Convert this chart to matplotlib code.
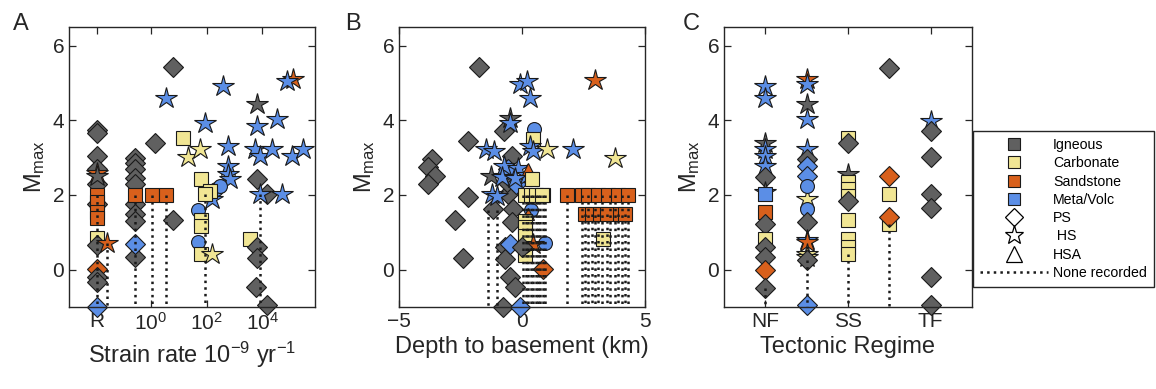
import matplotlib
matplotlib.use('Agg')
import matplotlib.pyplot as plt
from matplotlib.lines import Line2D

plt.rcParams['font.family'] = ['Liberation Sans', 'DejaVu Sans']
plt.rcParams['mathtext.default'] = 'regular'

# kind code: rock letter + marker
# I = Igneous, C = Carbonate, S = Sandstone, M = Meta/Volc
rock_colors = {'I': '#606060', 'C': '#f1e694', 'S': '#d8601c', 'M': '#5b8ee6'}
marker_sizes = {'D': 10, '*': 16, 's': 9.5, 'o': 10, '^': 9}

# ---- Panel A: strain rate (log10 units, R = no rate) ----
a_x = [-1.92, -1.92, -1.92, -1.92, -1.92, -1.92, -1.92, -1.92, -1.92, -1.92,
       -1.92, -1.92, -1.92, -1.92, -1.92, -1.92, -1.92, -1.92, -1.55,
       -0.55, -0.55, -0.55, -0.55, -0.55, -0.55, -0.55, -0.55, -0.55, -0.55, -0.55,
       0.05, 0.56, 0.14, 0.8, 0.56, 0.8,
       1.15, 1.34, 1.76, 1.94, 2.6, 2.78, 2.78, 2.78, 2.84, 2.35, 2.48, 2.18,
       1.82, 2.12, 1.94, 1.7, 1.82, 1.82, 1.7, 1.82, 2.18,
       3.8, 3.8, 4.54, 3.74, 3.92, 4.34, 5.05, 5.47, 5.11, 4.9,
       3.8, 4.18, 3.92, 4.7, 3.56, 3.82, 3.8, 3.77, 4.18]
a_y = [3.75, 3.65, 3.05, 2.7, 2.3, 1.75, 2.6, 2.5, 2.0, 1.8,
       1.55, 1.38, 0.85, 0.65, 0.02, -0.2, -0.33, -1.0, 0.72,
       3.0, 2.85, 2.7, 2.45, 2.3, 1.75, 1.5, 1.3, 0.35, 2.0, 0.7,
       2.0, 2.0, 3.4, 1.32, 4.6, 5.42,
       3.54, 3.02, 3.23, 3.94, 4.92, 3.32, 2.78, 2.56, 2.43, 2.15, 2.25, 1.89,
       2.43, 2.12, 2.03, 1.6, 1.32, 1.18, 0.74, 0.43, 0.43,
       4.43, 3.85, 4.03, 3.23, 3.05, 3.23, 3.05, 3.23, 5.12, 5.05,
       2.43, 2.03, 2.03, 2.03, 0.81, 0.6, 0.31, -0.46, -0.95]
a_kind = ['ID', 'ID', 'ID', 'ID', 'ID', 'ID', 'S*', 'I*', 'Ss', 'Ss',
          'Ss', 'Ss', 'Cs', 'ID', 'SD', 'ID', 'ID', 'MD', 'S*',
          'ID', 'ID', 'ID', 'ID', 'ID', 'ID', 'ID', 'ID', 'ID', 'Ss', 'MD',
          'Ss', 'Ss', 'ID', 'ID', 'M*', 'ID',
          'Cs', 'C*', 'C*', 'M*', 'M*', 'M*', 'M*', 'M*', 'M*', 'Mo', 'Mo', 'M*',
          'Cs', 'Cs', 'Cs', 'Mo', 'Cs', 'Cs', 'Mo', 'Cs', 'C*',
          'I*', 'M*', 'M*', 'M*', 'M*', 'M*', 'M*', 'M*', 'S*', 'M*',
          'ID', 'ID', 'M*', 'M*', 'Cs', 'ID', 'ID', 'ID', 'ID']
a_drop_x = [-1.92, -1.55, -0.55, 0.05, 0.56, 1.94, 3.92]
a_drop_top = [2.0, 0.72, 2.0, 2.0, 2.0, 2.03, 2.03]
a_ticks = [-1.92, 0, 2, 4]
a_ticklabels = ['R', '$10^0$', '$10^2$', '$10^4$']

# ---- Panel B: depth to basement ----
b_x = [-1.75, -3.67, -3.81, -3.54, -3.81, -2.18, -2.18, -2.72, -2.38, -1.19,
       -0.75, -0.42, -0.55, -0.62, -0.35, -0.42, -0.69, -0.69, -0.49, -0.28, -0.78,
       -0.55, -0.25, -0.49, -0.08,
       -1.28, -0.49, -1.48, -1.14, -0.74, -0.81, -1.21, -1.01, -0.49,
       -0.15, 0.19, -0.3, -0.08, 0.19, 0.33,
       0.49, 0.46, 0.33, 0.46, 1.0, 2.09, 3.78, 2.97,
       0.26, 0.39, 0.87, 0.12, 0.35, 0.58, 0.8,
       0.37, 0.26, 0.12, 0.12, 0.12, 0.12, 0.12,
       0.93, 0.45, 0.84, -0.01,
       1.82, 2.43, 2.7, 3.1, 3.51, 3.91, 4.32,
       2.56, 2.83, 3.17, 3.44, 3.98, 4.19, 3.3]
b_y = [5.42, 2.96, 2.74, 2.52, 2.29, 3.45, 1.94, 1.32, 0.31, 1.63,
       3.72, 3.05, 2.03, 2.35, 1.63, 1.27, 0.6, 0.29, -0.2, -0.46, -1.0,
       2.69, 2.3, 0.69, -1.0,
       2.52, 4.05, 3.23, 3.18, 2.78, 2.47, 2.03, 1.98, 3.94,
       2.72, 2.54, 2.45, 4.96, 5.05, 4.6,
       3.76, 3.51, 3.32, 3.18, 3.23, 3.23, 2.98, 5.09,
       2.7, 2.43, 2.0, 2.0, 2.0, 2.0, 2.0,
       1.6, 1.48, 1.3, 1.15, 0.9, 0.55, 0.4,
       0.71, 0.68, 0.02, 0.6,
       2.0, 2.0, 2.0, 2.0, 2.0, 2.0, 2.0,
       1.5, 1.5, 1.5, 1.5, 1.5, 1.5, 0.83]
b_kind = ['ID', 'ID', 'ID', 'ID', 'ID', 'ID', 'ID', 'ID', 'ID', 'ID',
          'ID', 'ID', 'ID', 'ID', 'ID', 'ID', 'ID', 'ID', 'ID', 'ID', 'ID',
          'MD', 'MD', 'MD', 'MD',
          'I*', 'I*', 'M*', 'M*', 'M*', 'M*', 'M*', 'M*', 'M*',
          'M*', 'M*', 'M*', 'M*', 'M*', 'M*',
          'Mo', 'Cs', 'M*', 'M*', 'C*', 'M*', 'C*', 'S*',
          'S^', 'Cs', 'Ms', 'Cs', 'Cs', 'Cs', 'Cs',
          'Mo', 'S^', 'Cs', 'Cs', 'Cs', 'Cs', 'Cs',
          'Mo', 'S*', 'SD', 'ID',
          'Ss', 'Ss', 'Ss', 'Ss', 'Ss', 'Ss', 'Ss',
          'Ss', 'Ss', 'Ss', 'Ss', 'Ss', 'Ss', 'Cs']
b_drop_x = [-1.37, -1.0, 0.05, 0.15, 0.25, 0.35, 0.45, 0.55, 0.65, 0.75, 0.85, 0.93,
            1.82, 2.43, 2.56, 2.7, 2.83, 2.97, 3.1, 3.24, 3.44, 3.58, 3.78, 3.91,
            4.05, 4.19, 4.32]
b_drop_top = [1.6, 1.6, 2.0, 2.0, 2.0, 2.0, 2.0, 2.0, 2.0, 2.0, 2.0, 2.0,
              2.0, 2.0, 1.5, 2.0, 1.5, 2.0, 1.5, 2.0, 1.5, 2.0, 2.0, 1.5,
              2.0, 1.5, 2.0]

# ---- Panel C: tectonic regime ----
c_x = [1, 1, 1, 1, 1, 1, 1, 1, 1, 1, 1, 1, 1, 1, 1, 1,
       2, 2, 2, 2, 2, 2, 2, 2, 2, 2, 2, 2, 2, 2, 2, 2, 2, 2,
       3, 3, 3, 3, 3, 3, 3, 3, 3, 3, 3,
       4, 4, 4, 4, 4,
       5, 5, 5, 5, 5, 5, 5]
c_y = [4.92, 4.6, 3.4, 3.23, 3.05, 2.78, 2.47, 2.08, 2.03, 1.54, 1.23, 0.83, 0.6, 0.34, -0.02, -0.49,
       5.1, 4.98, 4.43, 4.03, 3.24, 2.96, 2.78, 2.52, 1.9, 2.25, 1.63, 1.27, 0.8, 0.74, 0.43, 0.34, 0.25, -0.95,
       3.54, 3.4, 2.56, 2.34, 2.16, 1.98, 1.85, 1.32, 0.81, 0.6, 0.43,
       5.4, 2.52, 2.03, 1.23, 1.4,
       3.98, 3.72, 3.03, 2.03, 1.64, -0.2, -0.95]
c_kind = ['M*', 'M*', 'I*', 'M*', 'M*', 'M*', 'ID', 'I*', 'Ms', 'Ss', 'ID', 'Cs', 'ID', 'ID', 'SD', 'ID',
          'S*', 'M*', 'I*', 'M*', 'M*', 'ID', 'MD', 'MD', 'C*', 'Mo', 'Mo', 'ID', 'M*', 'S*', 'C*', 'C*', 'ID', 'MD',
          'Cs', 'ID', 'I*', 'Cs', 'Cs', 'Cs', 'ID', 'Cs', 'Cs', 'Cs', 'Cs',
          'ID', 'SD', 'Cs', 'Cs', 'SD',
          'M*', 'ID', 'ID', 'ID', 'ID', 'ID', 'ID']
c_drop_x = [1, 2, 3, 4]
c_drop_top = [-0.49, 0.25, 0.43, 1.23]
c_ticks = [1, 3, 5]
c_ticklabels = ['NF', 'SS', 'TF']

legend_labels = ['Igneous', 'Carbonate', 'Sandstone', 'Meta/Volc', 'PS', ' HS', 'HSA', 'None recorded']

edge = '#1a1a1a'
axis_col = '#262626'


def draw_panel(ax, xs, ys, kinds, drop_x, drop_top):
    for x, y, k in zip(xs, ys, kinds):
        ax.plot(x, y, linestyle='none', marker=k[1], ms=marker_sizes[k[1]],
                mfc=rock_colors[k[0]], mec=edge, mew=0.8, clip_on=False, zorder=2)
    for x, top in zip(drop_x, drop_top):
        ax.plot([x, x], [top, -1], linestyle=':', color=edge, lw=1.8, zorder=3)
    ax.set_ylim(-1, 6.5)
    ax.set_yticks([0, 2, 4, 6])
    ax.tick_params(direction='in', top=True, right=True, length=5, width=0.9,
                   labelsize=15, colors=axis_col)
    for s in ax.spines.values():
        s.set_color(axis_col)
        s.set_linewidth(1.0)
    ax.set_ylabel('$M_{max}$', fontsize=17, color=axis_col)


fig = plt.figure(figsize=(11.56, 3.89), dpi=100)
W, H = 1156, 389
axA = fig.add_axes([69 / W, 1 - 307 / H, 246 / W, 280 / H])
axB = fig.add_axes([399 / W, 1 - 307 / H, 246 / W, 280 / H])
axC = fig.add_axes([724 / W, 1 - 307 / H, 248 / W, 280 / H])

draw_panel(axA, a_x, a_y, a_kind, a_drop_x, a_drop_top)
axA.set_xlim(-2.93, 5.89)
axA.set_xticks(a_ticks)
axA.set_xticklabels(a_ticklabels)
axA.set_xlabel('Strain rate $10^{-9}$ yr$^{-1}$', fontsize=17, color=axis_col)

draw_panel(axB, b_x, b_y, b_kind, b_drop_x, b_drop_top)
axB.set_xlim(-5, 5)
axB.set_xticks([-5, 0, 5])
axB.set_xlabel('Depth to basement (km)', fontsize=17, color=axis_col)

draw_panel(axC, c_x, c_y, c_kind, c_drop_x, c_drop_top)
axC.set_xlim(0, 6)
axC.set_xticks(c_ticks)
axC.set_xticklabels(c_ticklabels)
axC.set_xlabel('Tectonic Regime', fontsize=17, color=axis_col)

for letter, xp in zip(['A', 'B', 'C'], [13, 345, 683]):
    fig.text(xp / W, 1 - 30 / H, letter, fontsize=17, color=axis_col, va='baseline')

handles = [Line2D([], [], ls='none', marker='s', ms=8.5, mfc=rock_colors[r], mec=edge, mew=0.8)
           for r in 'ICSM']
handles += [Line2D([], [], ls='none', marker='D', ms=9, mfc='white', mec='black', mew=0.9),
            Line2D([], [], ls='none', marker='*', ms=14, mfc='white', mec='black', mew=0.9),
            Line2D([], [], ls='none', marker='^', ms=12, mfc='white', mec='black', mew=0.9),
            Line2D([], [], ls=':', color=edge, lw=1.8)]
leg = fig.legend(handles, legend_labels, loc='upper left', bbox_to_anchor=(966 / W, 1 - 124 / H),
                 fontsize=10.2, handlelength=4.8, handletextpad=0.35, borderpad=0.5,
                 labelspacing=0.3, fancybox=False, framealpha=1, edgecolor=axis_col)
leg.get_frame().set_linewidth(1.0)

fig.savefig('out.png', dpi=100)
